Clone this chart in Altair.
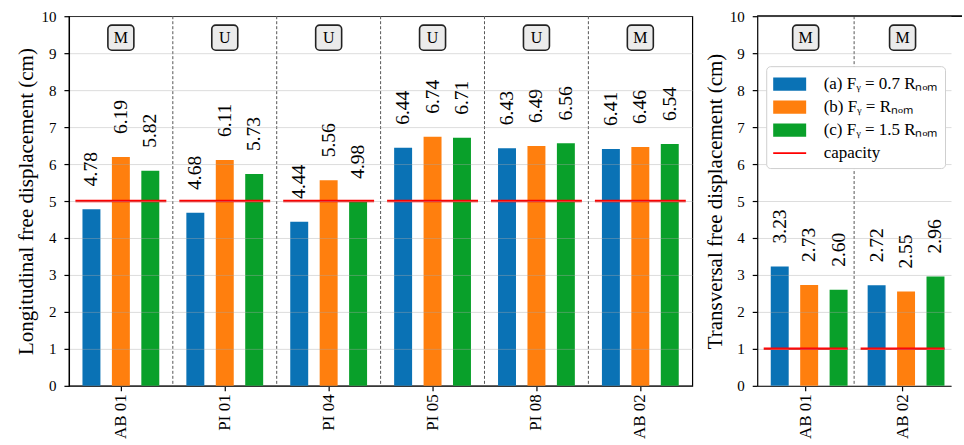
import altair as alt
import pandas as pd

FONT = "Liberation Serif"

# Load cases (legend entries) and their colours
series_names = ["(a) Fᵧ = 0.7 Rₙₒₘ", "(b) Fᵧ = Rₙₒₘ", "(c) Fᵧ = 1.5 Rₙₒₘ"]
capacity_name = "capacity"
series_colors = ["#0a72b5", "#ff7f0e", "#09a02a"]
capacity_color = "#ff0000"

# Longitudinal direction
long_groups = ["AB 01", "PI 01", "PI 04", "PI 05", "PI 08", "AB 02"]
long_a = [4.78, 4.68, 4.44, 6.44, 6.43, 6.41]
long_b = [6.19, 6.11, 5.56, 6.74, 6.49, 6.46]
long_c = [5.82, 5.73, 4.98, 6.71, 6.56, 6.54]
long_capacity = [5, 5, 5, 5, 5, 5]
long_modes = ["M", "U", "U", "U", "U", "M"]

# Transversal direction
trans_groups = ["AB 01", "AB 02"]
trans_a = [3.23, 2.72]
trans_b = [2.73, 2.55]
trans_c = [2.60, 2.96]
trans_capacity = [1, 1]
trans_modes = ["M", "M"]

legend_entries = series_names + [capacity_name]
legend_colors = series_colors + [capacity_color]
PATCH = "M-1.5,-0.6H1.5V0.6H-1.5Z"
STROKE = "M-1.5,-0.08H1.5V0.08H-1.5Z"
legend_shapes = [PATCH, PATCH, PATCH, STROKE]


def panel(groups, a, b, c, cap, modes, width, group_span, cap_len, title, with_legend):
    bars_df = pd.DataFrame({
        "group": groups * 3,
        "series": [s for s in series_names for _ in groups],
        "value": a + b + c,
    })
    cap_df = pd.DataFrame({"group": groups, "series": capacity_name, "value": cap})
    mode_df = pd.DataFrame({"group": groups, "mode": modes})
    sep_df = pd.DataFrame({"group": groups[1:]})

    x_scale = alt.Scale(domain=groups, range=[0, group_span * len(groups)],
                        paddingInner=0, paddingOuter=0)
    x_axis = alt.Axis(title=None, labelAngle=270, labelFont=FONT, labelFontSize=17,
                      labelPadding=3, tickSize=5, grid=False)
    x = alt.X("group:N", scale=x_scale, axis=x_axis, sort=groups)
    x_sep = alt.X("group:N", scale=x_scale, axis=x_axis, sort=groups, bandPosition=0)
    xo = alt.XOffset("series:N", sort=series_names,
                     scale=alt.Scale(domain=series_names, paddingInner=0.39, paddingOuter=0.46))
    y_scale = alt.Scale(domain=[0, 10], nice=False)
    y_axis = alt.Axis(title=title, values=list(range(11)), grid=True, gridColor="#a8a8a8",
                      gridOpacity=0.4, gridWidth=1, tickSize=5, labelFont=FONT,
                      labelFontSize=15, labelPadding=8, titleFont=FONT, titleFontSize=21,
                      titleFontWeight="normal", titlePadding=4, zindex=1)
    y = alt.Y("value:Q", scale=y_scale, axis=y_axis)

    def y_at(v):
        return alt.YDatum(v, scale=y_scale, axis=y_axis)

    if with_legend:
        legend = alt.Legend(title=None, orient="none", legendX=9, legendY=50,
                            labelFont=FONT, labelFontSize=17, labelColor="black",
                            labelLimit=400, symbolSize=484, symbolOffset=5.5,
                            symbolStrokeWidth=0, symbolOpacity=1, labelOffset=23,
                            rowPadding=4, padding=7, strokeColor="#cfcfcf",
                            fillColor="white", cornerRadius=4, zindex=2)
    else:
        legend = None
    color = alt.Color("series:N", legend=legend,
                      scale=alt.Scale(domain=legend_entries, range=legend_colors))

    bars = alt.Chart(bars_df).mark_bar().encode(x=x, xOffset=xo, y=y, color=color)
    values = alt.Chart(bars_df).mark_text(
        angle=270, align="left", baseline="middle", dx=23, font=FONT, fontSize=19.5,
        color="black"
    ).encode(x=x, xOffset=xo, y=y, text=alt.Text("value:Q", format=".2f"))
    capacity = alt.Chart(cap_df).mark_tick(
        thickness=2.5, size=cap_len, opacity=1
    ).encode(x=x, y=y, color=color)
    separators = alt.Chart(sep_df).mark_rule(
        strokeDash=[3, 2], color="#555555", strokeWidth=1
    ).encode(x=x_sep)
    chips = alt.Chart(mode_df).mark_bar(
        width=26, cornerRadius=4, fill="#ebebeb", stroke="#222222", strokeWidth=1.6
    ).encode(x=x, y=y_at(9.08), y2=alt.datum(9.76))
    chip_text = alt.Chart(mode_df).mark_text(
        font=FONT, fontSize=16, baseline="middle", color="black"
    ).encode(x=x, y=y_at(9.42), text="mode:N")

    layers = [bars, separators, capacity, values, chips, chip_text]
    if with_legend:
        shape = alt.Shape("series:N", legend=legend,
                          scale=alt.Scale(domain=legend_entries, range=legend_shapes))
        keys = alt.Chart(cap_df).mark_point(size=0, filled=True, opacity=1).encode(
            x=x, y=y, color=color, shape=shape)
        top = alt.Chart(cap_df).mark_rule(color="black", strokeWidth=1.2).encode(
            y=y_at(10))
        layers += [keys, top]

    chart = alt.layer(*layers).properties(width=width, height=370)
    if with_legend:
        chart = chart.properties(view=alt.ViewBackground(stroke="transparent"))
    return chart


left = panel(long_groups, long_a, long_b, long_c, long_capacity, long_modes,
             624, 104, 91, "Longitudinal free displacement (cm)", False)
right = panel(trans_groups, trans_a, trans_b, trans_c, trans_capacity, trans_modes,
              205, 97, 84, "Transversal free displacement (cm)", True)

chart = alt.hconcat(left, right, spacing=10).resolve_scale(
    x="independent", y="independent", color="independent", shape="independent"
).configure(
    padding={"left": 15, "top": 8, "right": 0, "bottom": 0},
    background="white",
).configure_view(
    stroke="black", strokeWidth=1.2
).configure_axis(
    domainColor="black", domainWidth=1.2, tickColor="black", tickWidth=1.2,
    labelColor="black", titleColor="black"
)

chart.save("out.html", embed_options={"renderer": "svg", "actions": False})
